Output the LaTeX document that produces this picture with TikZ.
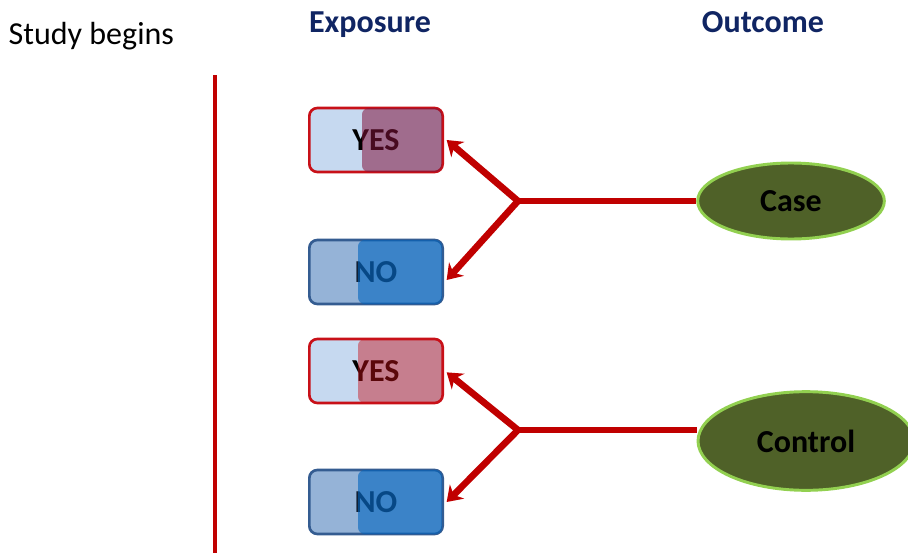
\documentclass[tikz,border=0pt]{standalone}
\usepackage{fontspec}
\setmainfont{Carlito}
\usepackage{tikz}
\usetikzlibrary{positioning, arrows.meta, calc, shapes.geometric}
\definecolor{navy}{RGB}{16,37,99}
\definecolor{arrred}{RGB}{192,0,0}
\definecolor{yesfill}{RGB}{198,217,240}
\definecolor{yesedge}{RGB}{200,16,24}
\definecolor{mauve}{RGB}{130,20,60}
\definecolor{nofill}{RGB}{149,179,215}
\definecolor{noedge}{RGB}{52,92,145}
\definecolor{noover}{RGB}{0,100,190}
\definecolor{olive}{RGB}{79,97,40}
\definecolor{leaf}{RGB}{146,208,80}

\begin{document}
\begin{tikzpicture}[x=0.75pt, y=-0.75pt,
  box/.style={draw, rounded corners=6pt, line width=2pt, minimum width=100pt, minimum height=48pt, font=\bfseries\fontsize{24}{28}\selectfont},
  yesb/.style={box, draw=yesedge, fill=yesfill, text=black},
  nob/.style={box, draw=noedge, fill=nofill, text=noedge!35!black},
  outc/.style={ellipse, draw=leaf, fill=olive, line width=2.2pt, font=\bfseries\fontsize{24}{28}\selectfont},
  head/.style={anchor=base, font=\bfseries\fontsize{24}{28}\selectfont, text=navy},
  arr/.style={arrred, line width=5pt, -{Stealth[length=11pt, width=15pt]}}]
\useasboundingbox (0,0) rectangle (908,553);
\clip (0,0) rectangle (908,553);
% headings
\node[anchor=base west, font=\fontsize{24}{28}\selectfont] (start) at (4,45) {Study begins};
\node[head] (expo) at (370,32) {Exposure};
\node[head] (outcm) at (763,32) {Outcome};
\draw[arrred, line width=3pt] (215,75) -- (215,553);
% exposure boxes
\node[yesb] (yes1) at (376,140) {YES};
\node[nob] (no1) at (376,272) {NO};
\node[yesb] (yes2) at (376,371) {YES};
\node[nob] (no2) at (376,502) {NO};
\fill[mauve, fill opacity=0.55, rounded corners=5pt] (362,108) rectangle (442,172);
\fill[noover, fill opacity=0.6, rounded corners=5pt] (358,240) rectangle (442,304);
\fill[yesedge, fill opacity=0.45, rounded corners=5pt] (358,339) rectangle (442,403);
\fill[noover, fill opacity=0.6, rounded corners=5pt] (358,470) rectangle (442,534);
% outcomes
\node[outc, minimum width=140pt, minimum height=57pt] (case) at (791,201) {Case};
\node[outc, minimum width=162pt, minimum height=74pt] (ctrl) at (806,441) {Control};
\coordinate (j1) at (518,201);
\coordinate (j2) at (518,430);
\draw[arrred, line width=5pt] (case.west) -- (j1);
\draw[arr] (j1) -- ([xshift=2pt]yes1.east);
\draw[arr] (j1) -- ([xshift=2pt, yshift=-6pt]no1.east);
\draw[arrred, line width=5pt] (ctrl.west |- j2) -- (j2);
\draw[arr] (j2) -- ([xshift=2pt, yshift=-1pt]yes2.east);
\draw[arr] (j2) -- ([xshift=2pt]no2.east);
\end{tikzpicture}
\end{document}
